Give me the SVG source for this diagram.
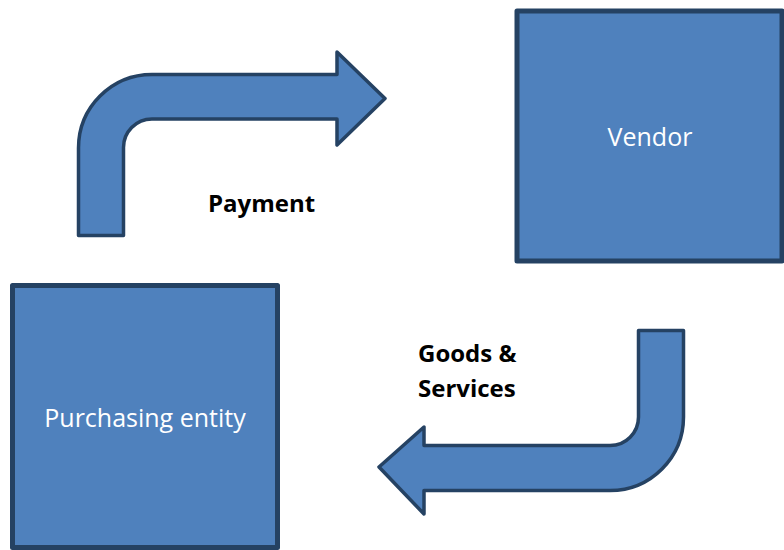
<svg xmlns="http://www.w3.org/2000/svg" width="784" height="550" viewBox="0 0 784 550">
  <style>
    .shape { fill: #4F81BD; stroke: #254263; stroke-linejoin: round; }
    .box { stroke-width: 5; }
    .arrow { stroke-width: 3.5; }
    .nodelabel { font-family: "Open Sans", "Liberation Sans", sans-serif; font-size: 25px; fill: #FFFFFF; text-anchor: middle; }
    .flowlabel { font-family: "Open Sans", "Liberation Sans", sans-serif; font-size: 24px; font-weight: bold; fill: #000000; }
  </style>
  <rect width="784" height="550" fill="#FFFFFF"/>

  <g id="vendor">
    <rect class="shape box" x="517" y="11" width="265" height="250"/>
    <text class="nodelabel" x="650" y="146">Vendor</text>
  </g>

  <g id="purchasing-entity">
    <rect class="shape box" x="12.5" y="285.5" width="265" height="262"/>
    <text class="nodelabel" x="145" y="427">Purchasing entity</text>
  </g>

  <g id="connectors">
    <!-- bent arrow: purchasing entity up and over to vendor -->
    <g id="payment-flow">
      <path class="shape arrow" d="M78.5 235.5 L78.5 148 A73.5 73.5 0 0 1 152 74.5 L337 74.5 L337 52 L385 98.5 L337 145 L337 119 L152 119 A28.5 28.5 0 0 0 123.5 148 L123.5 235.5 Z"/>
      <text class="flowlabel" x="208" y="212">Payment</text>
    </g>
    <!-- bent arrow: vendor down and back to purchasing entity -->
    <g id="goods-flow">
      <path class="shape arrow" d="M683.5 330.5 L683.5 417 A73.5 73.5 0 0 1 610 490.5 L424 490.5 L424 514 L379 467 L424 427 L424 445.5 L610 445.5 A28.5 28.5 0 0 0 638.5 417 L638.5 330.5 Z"/>
      <text class="flowlabel" x="418" y="362">Goods &amp;</text>
      <text class="flowlabel" x="418" y="397">Services</text>
    </g>
  </g>
</svg>
